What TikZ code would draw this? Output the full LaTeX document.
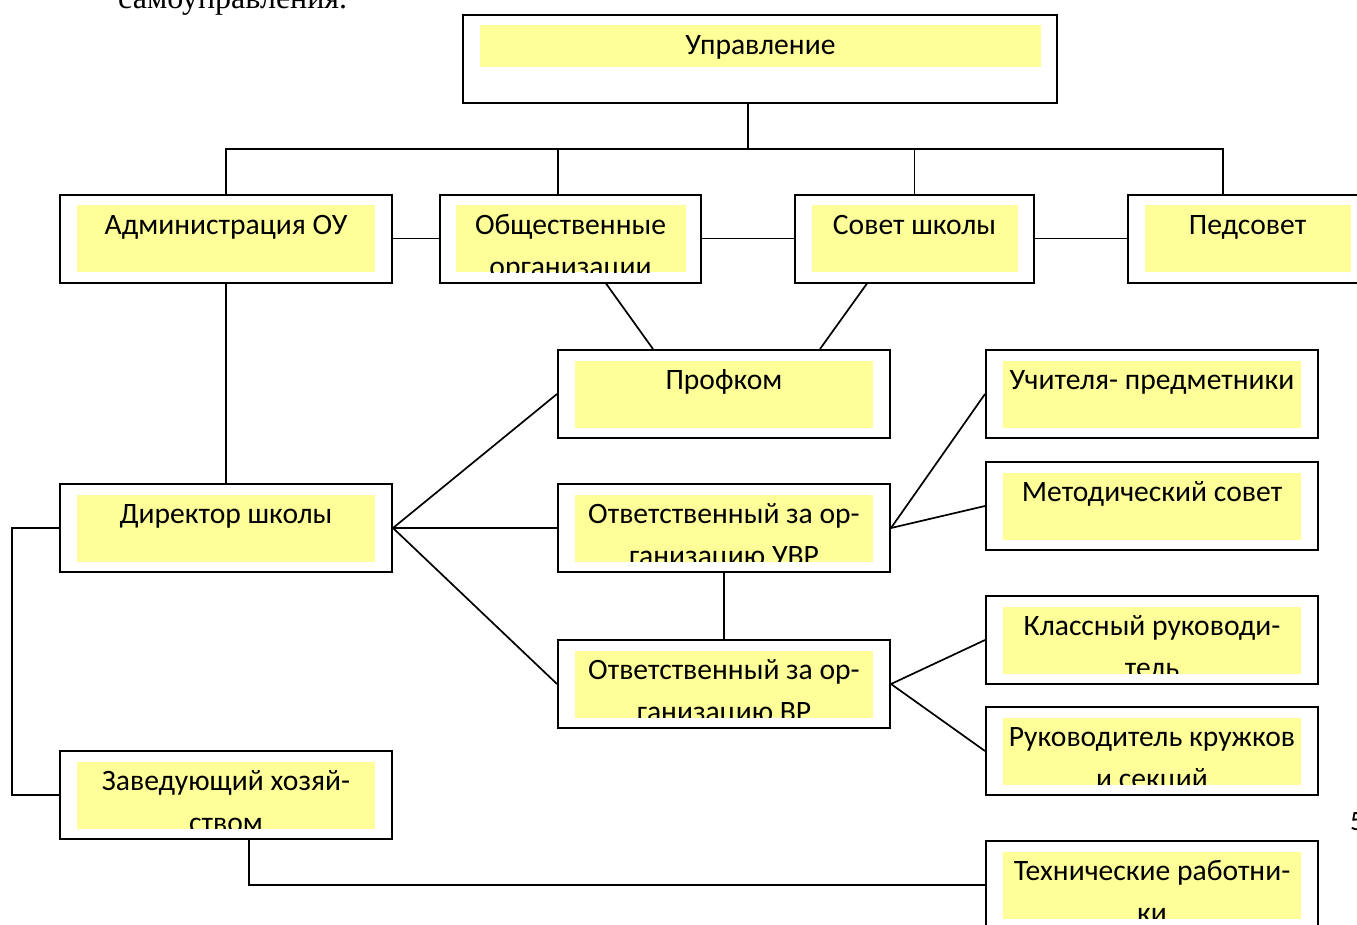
\documentclass[tikz,border=0pt]{standalone}
\usepackage{fontspec}
\setmainfont{Carlito}
\newfontfamily\pageserif{Liberation Serif}
\definecolor{paleyellow}{RGB}{255,255,153}
\tikzset{
  frame/.style={draw, line width=2pt, minimum width=332pt, minimum height=88pt, inner sep=0pt},
  hilite/.style={fill=paleyellow, draw=none, minimum width=298pt, minimum height=67pt, inner sep=0pt},
  txt/.style={path picture={\node[anchor=base, align=center, inner sep=0pt, fill=none,
      minimum width=0pt, minimum height=0pt, font=\fontsize{29.6}{42}\selectfont]
      at ([yshift=-29pt]path picture bounding box.north) {#1};}},
  txtii/.style={path picture={\node[anchor=base, align=center, inner sep=0pt, fill=none,
      minimum width=0pt, minimum height=0pt, font=\fontsize{29.6}{42}\selectfont]
      at ([yshift=-71pt]path picture bounding box.north) {#1};}},
}

\begin{document}
\begin{tikzpicture}[x=1pt, y=-1pt]
  \useasboundingbox (0,0) rectangle (1357,924);
  % page leftovers
  \node[anchor=base west, inner sep=0pt, font=\pageserif\fontsize{32}{38}\selectfont] (pagetop) at (118,8) {самоуправления.};
  \node[anchor=base west, inner sep=0pt, font=\fontsize{28}{34}\selectfont] (pagenum) at (1350,830) {5};

  \begin{scope}[every node/.style={frame}]
    \node[minimum width=594pt] (upr) at (760,59) {};
    \node (adm) at (226,238.5) {};
    \node[minimum width=261pt] (obsh) at (570.5,238.5) {};
    \node[minimum width=239pt] (sov) at (914.5,238.5) {};
    \node[minimum width=239pt] (ped) at (1247.5,238.5) {};
    \node (prof) at (724,394) {};
    \node (uch) at (1152,394) {};
    \node (met) at (1152,506) {};
    \node (dir) at (226,528) {};
    \node (uvr) at (724,528) {};
    \node (vr) at (724,684) {};
    \node (kl) at (1152,640) {};
    \node (ruk) at (1152,751) {};
    \node (zav) at (226,795) {};
    \node (tech) at (1152,885) {};
  \end{scope}

  \begin{scope}[every node/.style={hilite}]
    \node[minimum width=561pt, minimum height=42pt, txt={Управление}] (upr-y) at (760.5,46) {};
    \node[txt={Администрация ОУ}] (adm-y) at (adm) {};
    \node[minimum width=230pt, txtii={Общественные\\организации}] (obsh-y) at (obsh) {};
    \node[minimum width=206pt, txt={Совет школы}] (sov-y) at (sov) {};
    \node[minimum width=206pt, txt={Педсовет}] (ped-y) at (ped) {};
    \node[txt={Профком}] (prof-y) at (prof) {};
    \node[txt={Учителя- предметники}] (uch-y) at (uch) {};
    \node[txt={Методический совет}] (met-y) at (met) {};
    \node[txt={Директор школы}] (dir-y) at (dir) {};
    \node[txtii={Ответственный за ор-\\ганизацию УВР}] (uvr-y) at (uvr) {};
    \node[txtii={Ответственный за ор-\\ганизацию ВР}] (vr-y) at (vr) {};
    \node[txtii={Классный руководи-\\тель}] (kl-y) at (kl) {};
    \node[txtii={Руководитель кружков\\и секций}] (ruk-y) at (ruk) {};
    \node[txtii={Заведующий хозяй-\\ством}] (zav-y) at (zav) {};
    \node[txtii={Технические работни-\\ки}] (tech-y) at (tech) {};
  \end{scope}

  \coordinate (bus) at (748,149);
  \coordinate (tap2) at (558,149);
  \coordinate (tap4) at (1223,149);
  \coordinate (side) at (12,528);
  \begin{scope}[line width=1.7pt]
    \draw (upr.south -| bus) -- (bus);
    \draw (adm.north) -- (adm.north |- bus) -- (tap4) -- (tap4 |- ped.north);
    \draw (tap2) -- (tap2 |- obsh.north);
    \draw (sov.north |- bus) -- (sov.north);
    \draw (adm.east) -- (obsh.west);
    \draw (obsh.east) -- (sov.west);
    \draw (sov.east) -- (ped.west);
    \draw ([xshift=35.5pt]obsh.south) -- ([xshift=-71pt]prof.north);
    \draw ([xshift=-47.5pt]sov.south) -- ([xshift=96pt]prof.north);
    \draw (adm.south) -- (dir.north);
    \draw (dir.east) -- (prof.west);
    \draw (dir.east) -- (uvr.west);
    \draw (dir.east) -- (vr.west);
    \draw (uvr.south) -- (vr.north);
    \draw (uvr.east) -- (uch.west);
    \draw (uvr.east) -- (met.west);
    \draw (vr.east) -- (kl.west);
    \draw (vr.east) -- (ruk.west);
    \draw (dir.west) -- (side) |- (zav.west);
    \draw ([xshift=23pt]zav.south) |- (tech.west);
  \end{scope}
\end{tikzpicture}
\end{document}
